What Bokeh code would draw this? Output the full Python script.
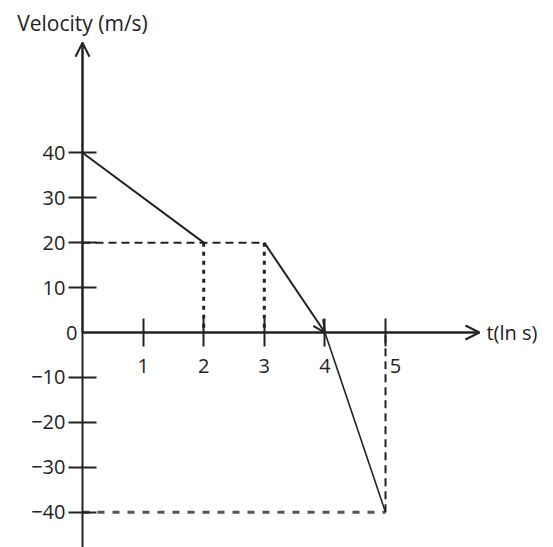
from bokeh.plotting import figure
from bokeh.models import (LinearAxis, FixedTicker, Arrow, OpenHead, Label,
                          Range1d)
from bokeh.embed import file_html
from bokeh.resources import INLINE

# velocity-time data
t = [0, 2, 3, 4, 5]
v = [40, 20, 20, 0, -40]

x_ticks = [1, 2, 3, 4, 5]
x_tick_labels = {5: "\u20035"}
y_ticks = [-40, -30, -20, -10, 10, 20, 30, 40]
y_tick_labels = {-40: "\u221240", -30: "\u221230", -20: "\u221220", -10: "\u221210",
                 10: "10", 20: "20", 30: "30", 40: "40"}

x_axis_end = 6.55
y_axis_top = 64.5
y_axis_bottom = -48

FONT = "Open Sans"
INK = "#222222"

p = figure(width=553, height=547, output_backend="svg", toolbar_location=None,
           x_range=Range1d(-1.353, 7.772), y_range=Range1d(-47.85, 73.9),
           x_axis_location=None, y_axis_location=None, min_border=0)
p.outline_line_color = None
p.grid.visible = False

# axes through the origin
xa = LinearAxis(fixed_location=0, bounds=(0, x_axis_end),
                ticker=FixedTicker(ticks=x_ticks),
                major_label_overrides=x_tick_labels)
ya = LinearAxis(fixed_location=0, bounds=(y_axis_bottom, y_axis_top),
                ticker=FixedTicker(ticks=y_ticks),
                major_label_overrides=y_tick_labels)
for ax in (xa, ya):
    ax.axis_line_width = 2
    ax.axis_line_color = INK
    ax.major_tick_line_width = 2
    ax.major_tick_line_color = INK
    ax.major_tick_in = 14
    ax.major_tick_out = 14
    ax.minor_tick_line_color = None
    ax.major_label_text_font = FONT
    ax.major_label_text_font_size = "20px"
    ax.major_label_text_color = INK
xa.major_label_standoff = 5
ya.major_label_standoff = 3
p.add_layout(xa, "below")
p.add_layout(ya, "left")

# arrowheads on the axes
p.add_layout(Arrow(end=OpenHead(size=14, line_width=2, line_color=INK),
                   x_start=0, y_start=0, x_end=x_axis_end, y_end=0,
                   line_width=2, line_color=INK))
p.add_layout(Arrow(end=OpenHead(size=14, line_width=2, line_color=INK),
                   x_start=0, y_start=0, x_end=0, y_end=y_axis_top,
                   line_width=2, line_color=INK))

# guide lines
p.line([t[0], t[2]], [v[1], v[2]], line_dash="8 5", line_width=2, line_color=INK)
p.line([t[1], t[1]], [v[1], 0], line_dash="4 5", line_width=3, line_color=INK)
p.line([t[2], t[2]], [v[2], 0], line_dash="4 5", line_width=3, line_color=INK)
p.line([t[4], t[4]], [v[4], 0], line_dash="8 5", line_width=2, line_color=INK)
p.line([t[0], t[4]], [v[4], v[4]], line_dash="7 8", line_width=3, line_color="#555555")

# velocity graph
p.line(t[0:2], v[0:2], line_width=2, line_color=INK)
p.add_layout(Arrow(end=OpenHead(size=12, line_width=2, line_color=INK),
                   x_start=t[2], y_start=v[2], x_end=t[3], y_end=v[3],
                   line_width=2, line_color=INK))
p.line(t[3:5], v[3:5], line_width=1.6, line_color=INK)

# texts
p.add_layout(Label(x=0, y=0, text="0", x_offset=-5, text_align="right",
                   text_baseline="middle", text_font=FONT, text_font_size="20px",
                   text_color=INK))
p.add_layout(Label(x=0, y=68.8, text="Velocity (m/s)", text_align="center",
                   text_baseline="middle", text_font=FONT, text_font_size="21px",
                   text_color=INK))
p.add_layout(Label(x=x_axis_end, y=0, text="t(ln s)", x_offset=7,
                   text_align="left", text_baseline="middle", text_font=FONT,
                   text_font_size="20px", text_color=INK))

open("out.html", "w").write(file_html(p, INLINE))
